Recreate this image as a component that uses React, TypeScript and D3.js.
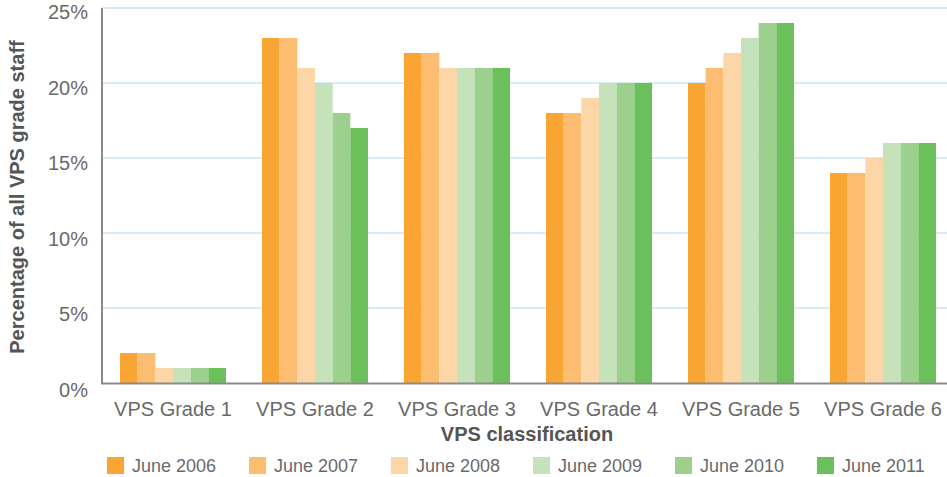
import React from "react";
import * as d3 from "d3";

const categories = ["VPS Grade 1", "VPS Grade 2", "VPS Grade 3", "VPS Grade 4", "VPS Grade 5", "VPS Grade 6"];
const seriesNames = ["June 2006", "June 2007", "June 2008", "June 2009", "June 2010", "June 2011"];
const june2006 = [2, 23, 22, 18, 20, 14];
const june2007 = [2, 23, 22, 18, 21, 14];
const june2008 = [1, 21, 21, 19, 22, 15];
const june2009 = [1, 20, 21, 20, 23, 16];
const june2010 = [1, 18, 21, 20, 24, 16];
const june2011 = [1, 17, 21, 20, 24, 16];
const yTicks = [0, 5, 10, 15, 20, 25];
const colors = ["#F9A533", "#FCBD71", "#FDD6A7", "#C5E2BB", "#9CD08C", "#6CC05B"];

const seriesValues = [june2006, june2007, june2008, june2009, june2010, june2011];

const W = 947;
const H = 477;
const left = 102;
const plotRight = 947;
const top = 8;
const bottom = 383;
const bandStep = 142;

export default function App() {
  const y = d3.scaleLinear().domain([0, 25]).range([bottom, top]);
  const yLabel = d3.scaleLinear().domain([0, 25]).range([397, 19]);
  const x0 = d3
    .scaleBand<string>()
    .domain(categories)
    .range([left, left + bandStep * categories.length])
    .padding(0);
  const x1 = d3
    .scaleBand<string>()
    .domain(seriesNames)
    .range([18, 124])
    .padding(0);

  const textColor = "#6a6a6a";
  const titleColor = "#555555";
  const font = "'Liberation Sans', Arial, Helvetica, sans-serif";

  return (
    <svg
      width={W}
      height={H}
      style={{ position: "absolute", left: 0, top: 0, background: "#fff" }}
      fontFamily={font}
    >
      {/* gridlines */}
      {yTicks.filter((t) => t > 0).map((t) => (
        <line
          key={"g" + t}
          x1={left}
          x2={plotRight}
          y1={y(t)}
          y2={y(t)}
          stroke="#C8E7F6"
          strokeWidth={1.5}
        />
      ))}
      {/* bars */}
      {categories.map((c, ci) => (
        <g key={c} transform={`translate(${x0(c)},0)`}>
          {seriesNames.map((s, si) => {
            const v = seriesValues[si][ci];
            return (
              <rect
                key={s}
                x={x1(s)}
                y={y(v)}
                width={x1.bandwidth()}
                height={y(0) - y(v)}
                fill={colors[si]}
              />
            );
          })}
        </g>
      ))}
      {/* axes */}
      <line x1={left} x2={left} y1={top} y2={bottom + 1} stroke="#8a8a8a" strokeWidth={2} />
      <line x1={left - 1} x2={plotRight} y1={bottom + 0.5} y2={bottom + 0.5} stroke="#8a8a8a" strokeWidth={2} />
      {/* y tick labels */}
      {yTicks.map((t) => (
        <text
          key={"t" + t}
          x={88}
          y={yLabel(t)}
          textAnchor="end"
          fontSize={20}
          fill={textColor}
        >
          {t + "%"}
        </text>
      ))}
      {/* x tick labels */}
      {categories.map((c) => (
        <text
          key={"x" + c}
          x={(x0(c) as number) + 71}
          y={416}
          textAnchor="middle"
          fontSize={20}
          fill={textColor}
        >
          {c}
        </text>
      ))}
      {/* axis titles */}
      <text x={527} y={441} textAnchor="middle" fontSize={20} fontWeight="bold" fill={titleColor}>
        VPS classification
      </text>
      <text
        transform={`translate(24,197) rotate(-90)`}
        textAnchor="middle"
        fontSize={20}
        fontWeight="bold"
        fill={titleColor}
      >
        Percentage of all VPS grade staff
      </text>
      {/* legend */}
      {seriesNames.map((s, i) => (
        <g key={"l" + s} transform={`translate(${107 + i * bandStep},457)`}>
          <rect x={0} y={0} width={17} height={17} fill={colors[i]} />
          <text x={25} y={15} fontSize={18} fill={textColor}>
            {s}
          </text>
        </g>
      ))}
    </svg>
  );
}
